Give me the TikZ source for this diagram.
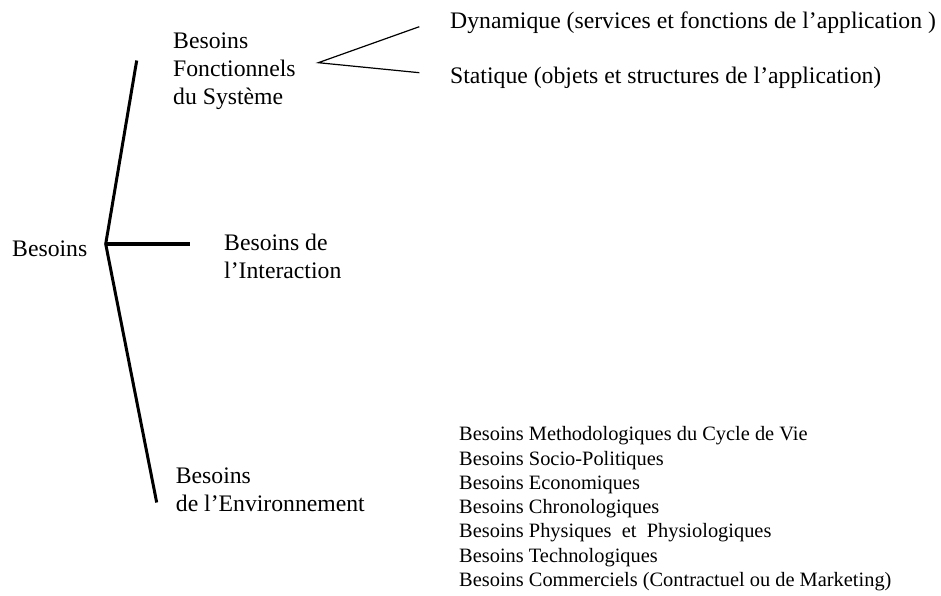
\documentclass[tikz,border=0pt]{standalone}
\usepackage{fontspec}
\setmainfont{Liberation Serif}
\begin{document}
\begin{tikzpicture}[x=1pt,y=-1pt,
  % multi-line labels are anchored on the baseline of their last line
  label/.style={inner sep=0pt,anchor=base west,align=left,
    font=\fontsize{23.7}{28}\selectfont},
  listtext/.style={inner sep=0pt,anchor=base west,align=left,
    font=\fontsize{20.4}{24.3}\selectfont},
  bracket/.style={line width=3pt,line cap=butt,line join=miter},
  spoke/.style={line width=4pt},
  thinline/.style={line width=1.2pt}]
\useasboundingbox (0,0) rectangle (941,596);

% tree skeleton
\coordinate (fork) at (105.7,244);
\coordinate (topend) at (136.7,60.5);
\coordinate (botend) at (156.7,502.5);
\coordinate (intend) at (190,244);
\coordinate (split) at (318.3,62.7);
\coordinate (dynend) at (419.3,26.7);
\coordinate (statend) at (419.3,72.7);

% labels
\node[label] (root) at (12,256) {Besoins};
\node[label] (fonc) at (173,105) {Besoins\\Fonctionnels\\du Système};
\node[label] (inter) at (224,278.3) {Besoins de\\l’Interaction};
\node[label] (env) at (175.7,511) {Besoins\\de l’Environnement};
\node[label] (dyn) at (450,28.3) {Dynamique (services et fonctions de l’application )};
\node[label] (stat) at (450,83.5) {Statique (objets et structures de l’application)};
\node[listtext] (envlist) at (459,586.5) {Besoins Methodologiques du Cycle de Vie\\
Besoins Socio-Politiques\\
Besoins Economiques\\
Besoins Chronologiques\\
Besoins Physiques\ \ et\ \ Physiologiques\\
Besoins Technologiques\\
Besoins Commerciels (Contractuel ou de Marketing)};

% connectors
\draw[bracket] (topend) -- (fork) -- (botend);
\draw[spoke] (fork) -- (intend);
\draw[thinline] (dynend) -- (split) -- (statend);
\end{tikzpicture}
\end{document}
